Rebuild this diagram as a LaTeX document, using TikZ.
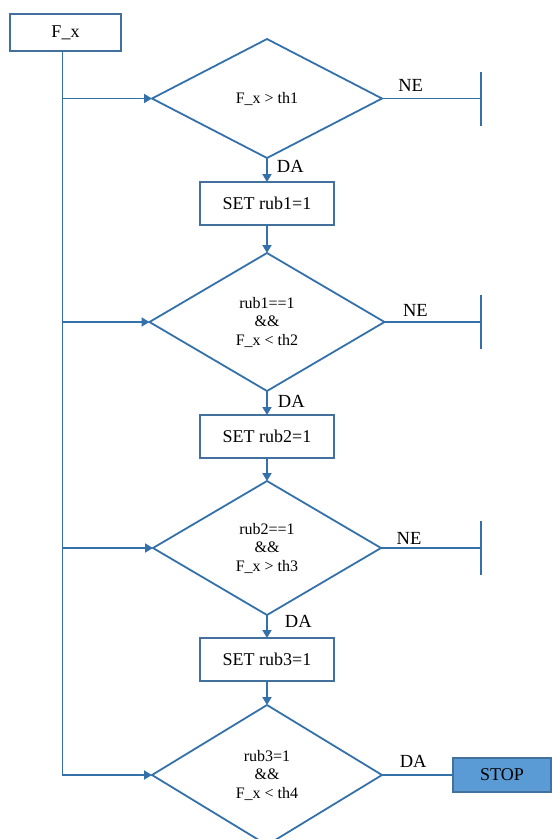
\documentclass[tikz,border=0pt]{standalone}
\usepackage{fontspec}
\setmainfont{Liberation Serif}
\usepackage{xcolor}
\usetikzlibrary{shapes,shapes.geometric}
\usetikzlibrary{arrows.meta}
\usetikzlibrary{positioning}
\definecolor{flowblue}{RGB}{52,112,170}
\definecolor{boxblue}{RGB}{65,113,156}
\definecolor{stopblue}{RGB}{91,155,213}

\begin{document}
\begin{tikzpicture}[x=1pt,y=1pt]
\tikzset{flowbox/.style={rectangle,draw=boxblue,line width=1.8pt,minimum width=134pt,minimum height=43pt,inner sep=0pt,outer sep=0pt,font=\fontsize{18}{20}\selectfont},
decision/.style={diamond,draw=flowblue,line width=1.8pt,inner sep=0pt,outer sep=0pt,align=center,font=\fontsize{16}{18.5}\selectfont},
flowline/.style={draw=flowblue,line width=1.8pt},
flowarrow/.style={flowline,-{Triangle[length=8pt,width=9pt]}},
answer/.style={inner sep=0pt,font=\fontsize{18.5}{20}\selectfont}}
\useasboundingbox (0,0) rectangle (552,-839);
\coordinate (edge) at (481,0);
\node[flowbox,minimum width=111pt,minimum height=37pt](fx) at (65.5,-32.5){F\_x};
\node[decision,minimum width=230pt,minimum height=119pt](d1) at (267,-98.5){F\_x > th1};
\node[flowbox](s1)[below=24pt of d1]{SET rub1=1};
\node[decision,minimum width=235pt,minimum height=138pt](d2)[below=28pt of s1]{rub1==1\\\&\&\\F\_x < th2};
\node[flowbox](s2)[below=24pt of d2]{SET rub2=1};
\node[decision,minimum width=228pt,minimum height=134pt](d3)[below=23pt of s2]{rub2==1\\\&\&\\F\_x > th3};
\node[flowbox](s3)[below=23pt of d3]{SET rub3=1};
\node[decision,minimum width=230pt,minimum height=140pt](d4)[below=24pt of s3]{rub3=1\\\&\&\\F\_x < th4};
\node[flowbox,fill=stopblue,minimum width=98pt,minimum height=34pt](stop)[right=71pt of d4]{STOP};
\coordinate (t) at ([xshift=-3pt]fx.south);
\draw[flowarrow] (t) |- (d4.west);
\draw[flowarrow] (t |- d1.west) -- (d1.west);
\draw[flowarrow] (t |- d2.west) -- (d2.west);
\draw[flowarrow] (t |- d3.west) -- (d3.west);
\draw[flowarrow] (d1.south) -- node[answer,right=9pt,pos=0.35]{DA} (s1.north);
\draw[flowarrow] (s1.south) -- (d2.north);
\draw[flowarrow] (d2.south) -- node[answer,right=10pt,pos=0.42]{DA} (s2.north);
\draw[flowarrow] (s2.south) -- (d3.north);
\draw[flowarrow] (d3.south) -- node[answer,right=17pt,pos=0.26]{DA} (s3.north);
\draw[flowarrow] (s3.south) -- (d4.north);
\draw[flowline] (d1.east) -- node[answer,above=6pt,pos=0.29]{NE} (d1.east -| edge);
\draw[flowline] ([yshift=27pt]d1.east -| edge) -- ([yshift=-27pt]d1.east -| edge);
\draw[flowline] (d2.east) -- node[answer,above=5pt,pos=0.32]{NE} (d2.east -| edge);
\draw[flowline] ([yshift=27pt]d2.east -| edge) -- ([yshift=-27pt]d2.east -| edge);
\draw[flowline] (d3.east) -- node[answer,above=3pt,pos=0.28]{NE} (d3.east -| edge);
\draw[flowline] ([yshift=27pt]d3.east -| edge) -- ([yshift=-27pt]d3.east -| edge);
\draw[flowline] (d4.east) -- node[answer,above=7pt,pos=0.44]{DA} (stop.west);
\end{tikzpicture}
\end{document}
